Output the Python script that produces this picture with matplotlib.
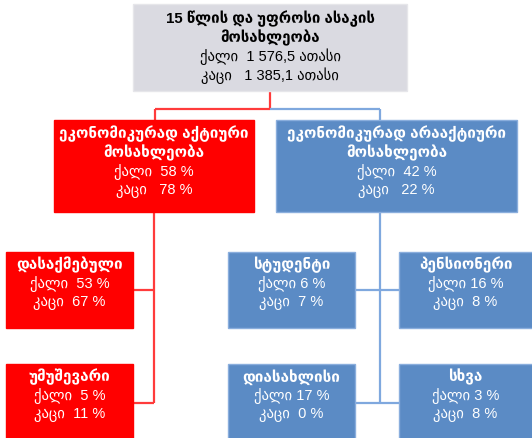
import matplotlib
matplotlib.use("Agg")
import matplotlib.pyplot as plt
from matplotlib.patches import Rectangle

plt.rcParams['font.family'] = ['Liberation Sans', 'DejaVu Sans']

# ---- data ----
total_title = ["15 წლის და უფროსი ასაკის", "მოსახლეობა"]
total_women = "1 576,5"
total_men = "1 385,1"
unit = "ათასი"

level2_titles = [["ეკონომიკურად აქტიური", "მოსახლეობა"],
                 ["ეკონომიკურად არააქტიური", "მოსახლეობა"]]
level2_women = [58, 42]
level2_men = [78, 22]

active_titles = ["დასაქმებული", "უმუშევარი"]
active_women = [53, 5]
active_men = [67, 11]

inactive_titles = ["სტუდენტი", "პენსიონერი", "დიასახლისი", "სხვა"]
inactive_women = [6, 16, 17, 3]
inactive_men = [7, 8, 0, 8]

women_lbl = "ქალი"
men_lbl = "კაცი"

# ---- style ----
RED = "#FF0000"
BLUE = "#5B8BC5"
GRAY = "#DADAE1"
RED_LINE = "#FF3B3B"
BLUE_LINE = "#7FA8DE"
FS = 10.5
LS = 19

fig = plt.figure(figsize=(5.32, 4.39), dpi=100)
ax = fig.add_axes([0, 0, 1, 1])
ax.set_xlim(0, 532)
ax.set_ylim(439, 0)
ax.axis('off')


def box(x0, y0, x1, y1, fc, ec=None):
    ax.add_patch(Rectangle((x0, y0), x1 - x0, y1 - y0, facecolor=fc,
                           edgecolor=ec if ec else fc, lw=1, zorder=2))


def lines(cx, y0, rows, color):
    for i, (txt, size) in enumerate(rows):
        bold = size is not None
        ax.text(cx, y0 + i * LS, txt, ha='center', va='center',
                fontsize=size if bold else FS,
                color=color, fontweight='bold' if bold else 'normal', zorder=3)


def line(xs, ys, color):
    ax.plot(xs, ys, color=color, lw=1.6, solid_capstyle='butt', zorder=1)


# connectors
line([270, 270], [92, 110], RED_LINE)
line([155, 270], [110, 110], RED_LINE)
line([155, 155], [110, 121], RED_LINE)
line([270, 380], [110, 110], BLUE_LINE)
line([380, 380], [110, 121], BLUE_LINE)
line([154, 154], [212, 404], RED_LINE)
line([133, 154], [291, 291], RED_LINE)
line([133, 154], [404, 404], RED_LINE)
line([380, 380], [212, 404], BLUE_LINE)
line([355, 399], [291, 291], BLUE_LINE)
line([355, 399], [404, 404], BLUE_LINE)

# top box
box(133, 5, 407, 92, GRAY, "#E6E6EA")
lines(270, 19, [(total_title[0], 10.8), (total_title[1], 10.8),
                (f"{women_lbl}  {total_women} {unit}", None),
                (f"{men_lbl}   {total_men} {unit}", None)], "black")

# level 2
l2_boxes = [(54, 121, 254, 213, RED, RED), (276, 121, 517, 213, BLUE, "#8AAEDD")]
for (x0, y0, x1, y1, fc, ec), t, w, m in zip(l2_boxes, level2_titles, level2_women, level2_men):
    box(x0, y0, x1, y1, fc, ec)
    lines((x0 + x1) / 2, 134, [(t[0], 11), (t[1], 11),
                                (f"{women_lbl}  {w} %", None),
                                (f"{men_lbl}   {m} %", None)], "white")

# active sub-boxes
act_pos = [(6, 253, 133, 329), (6, 365, 133, 440)]
for (x0, y0, x1, y1), t, w, m in zip(act_pos, active_titles, active_women, active_men):
    box(x0, y0, x1, y1, RED)
    lines((x0 + x1) / 2, y0 + 12, [(t, 11), (f"{women_lbl}  {w} %", None),
                                   (f"{men_lbl}  {m} %", None)], "white")

# inactive sub-boxes
inact_pos = [(228, 253, 355, 329), (399, 253, 534, 329),
             (228, 365, 355, 440), (399, 365, 534, 440)]
for (x0, y0, x1, y1), t, w, m in zip(inact_pos, inactive_titles, inactive_women, inactive_men):
    box(x0, y0, x1, y1, BLUE, "#8AAEDD")
    lines((x0 + min(x1, 532)) / 2, y0 + 12, [(t, 11), (f"{women_lbl} {w} %", None),
                                            (f"{men_lbl}  {m} %", None)], "white")

fig.savefig("out.png", dpi=100)
